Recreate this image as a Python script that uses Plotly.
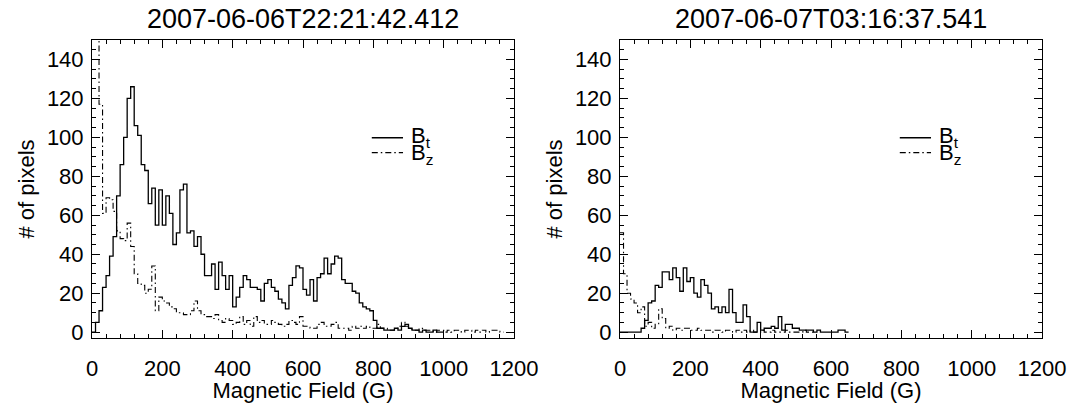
import numpy as np
import plotly.graph_objects as go
from plotly.subplots import make_subplots

# ---------------- data (counts per 10 G bin, starting at 0 G) ----------------
BIN_WIDTH = 10
titles = ["2007-06-06T22:21:42.412", "2007-06-07T03:16:37.541"]
legend_names = ["B<sub>t</sub>", "B<sub>z</sub>"]
x_tick_vals = [0, 200, 400, 600, 800, 1000, 1200]
y_tick_vals = [0, 20, 40, 60, 80, 100, 120, 140]

bt_left = [0, 5, 11, 23, 29, 39, 49, 70, 86, 100,
           120, 126, 106, 101, 86, 83, 66, 74, 55, 73,
           55, 70, 61, 45, 51, 73, 76, 51, 52, 44,
           49, 40, 29, 29, 35, 22, 36, 29, 22, 29,
           13, 18, 23, 29, 27, 23, 23, 22, 16, 25,
           27, 23, 21, 17, 15, 12, 24, 28, 34, 33,
           22, 19, 27, 16, 28, 30, 38, 30, 35, 39,
           38, 27, 25, 25, 21, 20, 15, 13, 12, 11,
           6, 2, 2, 1, 1, 1, 2, 1, 3, 4,
           2, 1, 1, 0, 1, 0, 0, 1, 0, 0]

bz_left = [400, 200, 117, 61, 69, 68, 62, 52, 48, 47,
           56, 44, 30, 25, 24, 20, 22, 34, 11, 18,
           16, 15, 13, 12, 10, 10, 9, 9, 11, 16,
           11, 9, 8, 8, 7, 9, 6, 5, 7, 6,
           4, 5, 8, 4, 6, 3, 8, 5, 6, 4,
           4, 6, 5, 4, 3, 4, 6, 5, 4, 8,
           3, 3, 2, 2, 4, 5, 3, 3, 4, 5,
           2, 2, 2, 1, 3, 2, 3, 2, 3, 2,
           2, 4, 2, 2, 1, 1, 2, 3, 5, 3,
           2, 1, 1, 2, 1, 1, 1, 0, 1, 1,
           0, 1, 0, 1, 1, 0, 1, 1, 0, 1,
           0, 1, 0, 1, 1, 1, 0]

bt_right = [0, 0, 0, 0, 0, 0, 2, 6, 15, 16,
            24, 23, 31, 31, 27, 33, 28, 21, 33, 26,
            28, 20, 18, 27, 24, 20, 12, 13, 10, 13,
            10, 22, 10, 5, 5, 14, 8, 0, 0, 5,
            1, 2, 2, 3, 2, 8, 1, 4, 4, 2,
            2, 1, 1, 1, 1, 0, 1, 0, 0, 0,
            0, 0, 1, 1, 0]

bz_right = [51, 30, 20, 17, 15, 10, 13, 3, 5, 2,
            4, 12, 7, 2, 3, 1, 2, 1, 2, 2,
            1, 1, 2, 1, 1, 1, 0, 1, 1, 0,
            1, 1, 0, 1, 0, 1, 0, 1, 0, 0,
            1, 0, 0, 1, 0, 0, 0, 1, 0, 0,
            0, 0, 1, 0, 0]

panels = [(bt_left, bz_left), (bt_right, bz_right)]

# ---------------- figure ----------------
FONT = "Liberation Sans, Arial, Helvetica, sans-serif"
W, H = 1073, 403
ML, MT = 92, 40
MR = W - 1042
MB = H - 338
plot_w = W - ML - MR
gap_frac = (620 - 514) / plot_w

fig = make_subplots(rows=1, cols=2, horizontal_spacing=gap_frac)


def step_xy(vals):
    edges = np.arange(len(vals) + 1) * BIN_WIDTH
    y = list(vals) + [vals[-1]]
    return edges, y


dash_dot = "6px,3px,1.5px,3px"
for col, (bt, bz) in enumerate(panels, start=1):
    xb, yb = step_xy(bt)
    xz, yz = step_xy(bz)
    fig.add_trace(go.Scatter(x=xb, y=yb, mode="lines", line_shape="hv",
                             line=dict(color="black", width=1.3),
                             name="B_t", showlegend=False), row=1, col=col)
    fig.add_trace(go.Scatter(x=xz, y=yz, mode="lines", line_shape="hv",
                             line=dict(color="black", width=1.1, dash=dash_dot),
                             name="B_z", showlegend=False), row=1, col=col)

axis_common = dict(showline=True, linecolor="black", linewidth=1, mirror="ticks",
                   ticks="inside", tickcolor="black", tickwidth=1, ticklen=8,
                   showgrid=False, zeroline=False, automargin=False,
                   ticklabeloverflow="allow",
                   tickfont=dict(family=FONT, size=22, color="black"))

for col in (1, 2):
    fig.update_xaxes(range=[0, 1200], tickvals=x_tick_vals,
                     minor=dict(dtick=40, tick0=0, ticks="inside", ticklen=4,
                                tickcolor="black", showgrid=False),
                     title=dict(text="Magnetic Field (G)",
                                font=dict(family=FONT, size=22, color="black"),
                                standoff=0),
                     ticklabelstandoff=11,
                     **axis_common, row=1, col=col)
    fig.update_yaxes(range=[-3, 150], tickvals=y_tick_vals,
                     minor=dict(dtick=5, tick0=0, ticks="inside", ticklen=4,
                                tickcolor="black", showgrid=False),
                     title=dict(text="# of pixels",
                                font=dict(family=FONT, size=22, color="black"),
                                standoff=6),
                     ticklabelstandoff=3,
                     **axis_common, row=1, col=col)

annotations = []
shapes = []
for i, title in enumerate(titles):
    xr = "x domain" if i == 0 else "x2 domain"
    yr = "y domain" if i == 0 else "y2 domain"
    annotations.append(dict(text=title, xref=xr, yref=yr, x=0.5, y=1.0,
                            xanchor="center", yanchor="bottom", yshift=4,
                            showarrow=False,
                            font=dict(family=FONT, size=27, color="black")))
    # manual legend
    leg_y = [0.672, 0.622]
    dashes = ["solid", dash_dot]
    widths = [1.3, 1.1]
    for k in range(2):
        shapes.append(dict(type="line", xref=xr, yref=yr,
                           x0=0.663, x1=0.737, y0=leg_y[k], y1=leg_y[k],
                           line=dict(color="black", width=widths[k], dash=dashes[k])))
        annotations.append(dict(text=legend_names[k], xref=xr, yref=yr,
                                x=0.75, y=leg_y[k], xanchor="left", yanchor="middle",
                                yshift=1 if k == 0 else -1,
                                showarrow=False,
                                font=dict(family=FONT, size=22, color="black")))

fig.update_layout(width=W, height=H, margin=dict(l=ML, r=MR, t=MT, b=MB),
                  paper_bgcolor="white", plot_bgcolor="white",
                  annotations=annotations, shapes=shapes,
                  font=dict(family=FONT, color="black"))

# remove the default 8px page margin so the figure sits at the window origin
fig.write_html("out.html",
               config={"displayModeBar": False, "staticPlot": True},
               post_script="document.body.style.margin='0px';"
                           "document.body.style.overflow='hidden';")
